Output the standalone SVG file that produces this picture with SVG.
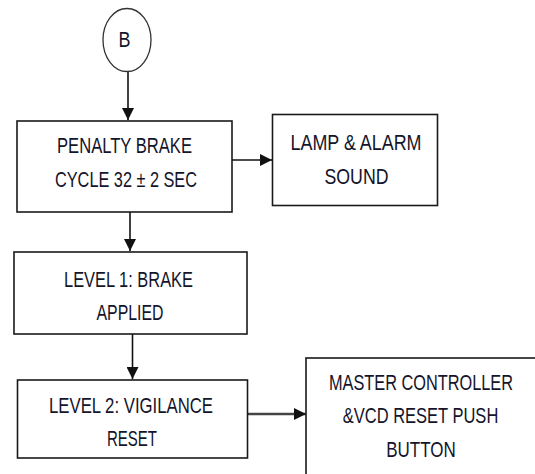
<svg xmlns="http://www.w3.org/2000/svg" width="535" height="474" viewBox="0 0 535 474">
<style>
.box{fill:#fff;stroke:#1a1a1a;stroke-width:1.6}
.conn{fill:none;stroke:#111;stroke-width:1.6}
.t{font-family:"Liberation Sans",Arial,sans-serif;font-size:21.5px;fill:#14142a;text-anchor:middle}
</style>
<defs>
<marker id="ah" markerUnits="userSpaceOnUse" markerWidth="12" markerHeight="12" viewBox="0 0 12 12" refX="12" refY="6" orient="auto">
<path d="M0,0 L12,6 L0,12 Z" fill="#111"/>
</marker>
</defs>
<rect width="535" height="474" fill="#fff"/>
<g id="connectors">
<line class="conn" x1="128" y1="72" x2="128" y2="120" marker-end="url(#ah)"/>
<line class="conn" x1="232" y1="160" x2="272" y2="160" marker-end="url(#ah)"/>
<line class="conn" x1="130" y1="212" x2="130" y2="251" marker-end="url(#ah)"/>
<line class="conn" x1="132.5" y1="334" x2="132.5" y2="379" marker-end="url(#ah)"/>
<line class="conn" x1="247" y1="414" x2="306" y2="414" style="stroke:#444;stroke-width:2.6" marker-end="url(#ah)"/>
</g>
<g id="nodeB">
<ellipse cx="127" cy="40" rx="24" ry="31.5" fill="#fff" stroke="#333" stroke-width="1.3"/>
<text class="t" x="124.5" y="47" textLength="12" lengthAdjust="spacingAndGlyphs">B</text>
</g>
<g id="penalty">
<rect class="box" x="17" y="121" width="215" height="91"/>
<text class="t" x="124.5" y="153" textLength="135" lengthAdjust="spacingAndGlyphs">PENALTY BRAKE</text>
<text class="t" x="126" y="187" textLength="142" lengthAdjust="spacingAndGlyphs">CYCLE 32 ± 2 SEC</text>
</g>
<g id="lamp">
<rect class="box" x="272.5" y="114.5" width="165" height="91"/>
<text class="t" x="356" y="150" textLength="131" lengthAdjust="spacingAndGlyphs">LAMP &amp; ALARM</text>
<text class="t" x="356.5" y="184" textLength="64" lengthAdjust="spacingAndGlyphs">SOUND</text>
</g>
<g id="level1">
<rect class="box" x="14" y="252" width="233" height="82"/>
<text class="t" x="128.5" y="287" textLength="129" lengthAdjust="spacingAndGlyphs">LEVEL 1: BRAKE</text>
<text class="t" x="130" y="320" textLength="67" lengthAdjust="spacingAndGlyphs">APPLIED</text>
</g>
<g id="level2">
<rect class="box" x="17.5" y="380" width="230" height="78"/>
<text class="t" x="131" y="413" textLength="164" lengthAdjust="spacingAndGlyphs">LEVEL 2: VIGILANCE</text>
<text class="t" x="132" y="446" textLength="50" lengthAdjust="spacingAndGlyphs">RESET</text>
</g>
<g id="master">
<rect class="box" x="306" y="358" width="240" height="130"/>
<text class="t" transform="translate(421,390) scale(0.759,1)" x="0" y="0">MASTER CONTROLLER</text>
<text class="t" transform="translate(420.5,423) scale(0.768,1)" x="0" y="0">&amp;VCD RESET PUSH</text>
<text class="t" transform="translate(421,457) scale(0.79,1)" x="0" y="0">BUTTON</text>
</g>
</svg>
